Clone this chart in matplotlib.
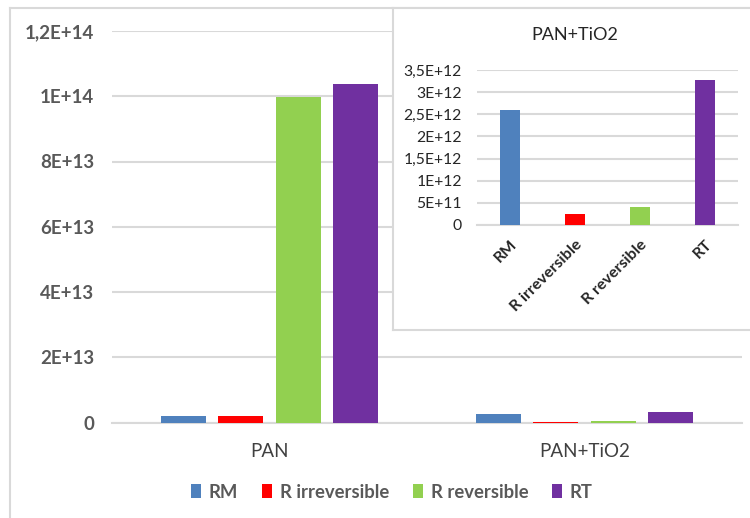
import matplotlib
matplotlib.use("Agg")
import matplotlib.pyplot as plt
import numpy as np
from matplotlib.patches import Patch
from matplotlib.lines import Line2D

plt.rcParams['font.family'] = ['Lato', 'DejaVu Sans']

groups = ["PAN", "PAN+TiO2"]
series = ["RM", "R irreversible", "R reversible", "RT"]
colors = ["#4F81BD", "#FF0000", "#92D050", "#7030A0"]
pan_vals = [1.9e12, 1.9e12, 9.97e13, 1.037e14]
pantio2_vals = [2.6e12, 2.4e11, 4.1e11, 3.27e12]
main_yticks = [0, 2e13, 4e13, 6e13, 8e13, 1e14, 1.2e14]
main_ylabels = ["0", "2E+13", "4E+13", "6E+13", "8E+13", "1E+14", "1,2E+14"]
inset_yticks = [0, 5e11, 1e12, 1.5e12, 2e12, 2.5e12, 3e12, 3.5e12]
inset_ylabels = ["0", "5E+11", "1E+12", "1,5E+12", "2E+12", "2,5E+12", "3E+12", "3,5E+12"]

W, H = 750, 518
fig = plt.figure(figsize=(7.5, 5.18), dpi=100)

def fx(x): return x / W
def fy(y): return 1 - y / H

# outer frame lines
fig.add_artist(Line2D([fx(10), fx(10)], [fy(8), 0], color="#D9D9D9", lw=1.5))
fig.add_artist(Line2D([fx(10), 1], [fy(8), fy(8)], color="#D9D9D9", lw=1.5))

grid_c = "#D9D9D9"
txt_c = "#595959"

# main axes
ax = fig.add_axes([fx(112), fy(422.5), fx(742 - 112), (422.5 - 31) / H])
vals = np.array([pan_vals, pantio2_vals])  # groups x series
x = np.arange(len(groups))
bw = 0.143
step = 0.1825
for i, (s, c) in enumerate(zip(series, colors)):
    ax.bar(x + (i - 1.5) * step, vals[:, i], width=bw, color=c, label=s, zorder=3,
           linewidth=0)
ax.set_xlim(-0.5, 1.5)
ax.set_ylim(0, 1.2e14)
ax.set_yticks(main_yticks)
ax.set_yticklabels(main_ylabels, fontsize=13.5, fontweight="bold", color=txt_c)
ax.set_xticks(x)
ax.set_xticklabels(groups, fontsize=13.5, color="#404040")
ax.tick_params(axis="y", length=0, pad=13)
ax.tick_params(axis="x", length=0, pad=15)
ax.yaxis.grid(True, color=grid_c, lw=1.5, zorder=0)
ax.set_axisbelow(True)
for sp in ["top", "right", "left"]:
    ax.spines[sp].set_visible(False)
ax.spines["bottom"].set_color(grid_c)
ax.spines["bottom"].set_linewidth(1.5)

# legend
handles = [Patch(facecolor=c, edgecolor="none", label=s) for s, c in zip(series, colors)]
leg = fig.legend(handles=handles, loc="center", bbox_to_anchor=(fx(392), fy(492)), ncol=4,
                 frameon=False, handlelength=0.55, handleheight=0.85, handletextpad=0.4,
                 columnspacing=1.3, prop={"size": 13.3, "weight": "bold"})
for t in leg.get_texts():
    t.set_color(txt_c)

# inset box
box = fig.add_axes([fx(393), fy(330), fx(760 - 393), (330 - 8) / H], zorder=2)
box.set_xticks([]); box.set_yticks([])
box.set_facecolor("white")
for sp in box.spines.values():
    sp.set_color(grid_c); sp.set_linewidth(1.5)

# inset axes
ia = fig.add_axes([fx(477), fy(225), fx(738 - 477), (225 - 70) / H], zorder=3)
ia.patch.set_alpha(0)
xi = np.arange(len(series))
ia.bar(xi, pantio2_vals, width=0.31, color=colors, zorder=3, linewidth=0)
ia.set_xlim(-0.5, 3.5)
ia.set_ylim(0, 3.5e12)
ia.set_yticks(inset_yticks)
ia.set_yticklabels(inset_ylabels, fontsize=11.3, color="#262626")
ia.set_xticks(xi)
ia.set_xticklabels(series, fontsize=11.5, fontweight="bold", rotation=45, ha="right",
                   rotation_mode="anchor", color="#262626")
ia.tick_params(axis="y", length=0, pad=11)
ia.tick_params(axis="x", length=0, pad=9)
ia.yaxis.grid(True, color=grid_c, lw=1.5, zorder=0)
ia.set_axisbelow(True)
for sp in ["top", "right", "left"]:
    ia.spines[sp].set_visible(False)
ia.spines["bottom"].set_color(grid_c)
ia.spines["bottom"].set_linewidth(1.5)
fig.text(fx(575), fy(35), "PAN+TiO2", ha="center", va="center", fontsize=13, color="#262626", zorder=4)

fig.savefig("out.png", dpi=100)
